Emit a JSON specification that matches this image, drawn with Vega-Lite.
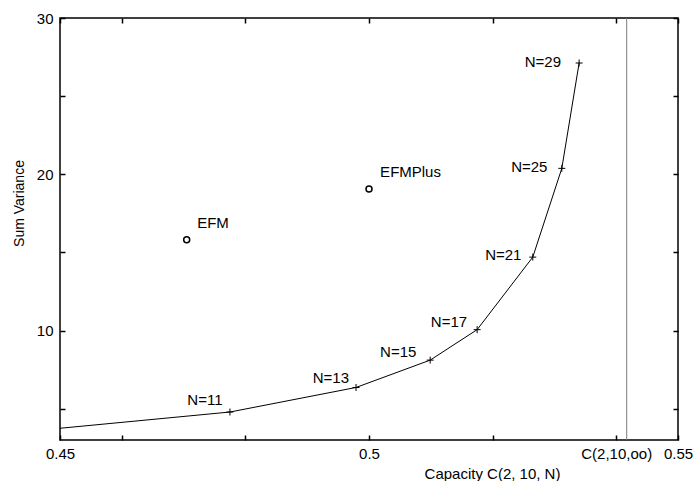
{
  "$schema": "https://vega.github.io/schema/vega-lite/v6.json",
  "width": 618,
  "height": 422,
  "autosize": {"type": "none"},
  "padding": {"left": 60, "top": 18, "right": 18, "bottom": 41},
  "background": "white",
  "config": {
    "font": "Liberation Sans",
    "view": {"stroke": "black", "strokeWidth": 1.5},
    "axis": {
      "domain": false,
      "grid": false,
      "ticks": true,
      "tickSize": -5,
      "tickColor": "black",
      "tickWidth": 1.5,
      "labelColor": "black",
      "labelFont": "Liberation Sans",
      "labelFontSize": 15,
      "labelOverlap": false,
      "labelFlush": false,
      "titleColor": "black",
      "titleFont": "Liberation Sans",
      "titleFontWeight": "normal"
    }
  },
  "datasets": {
    "curve": [
      {"N": "", "capacity": 0.45, "variance": 3.75},
      {"N": "N=11", "capacity": 0.4775, "variance": 4.79},
      {"N": "N=13", "capacity": 0.4979, "variance": 6.36},
      {"N": "N=15", "capacity": 0.5099, "variance": 8.11},
      {"N": "N=17", "capacity": 0.5175, "variance": 10.06},
      {"N": "N=21", "capacity": 0.5265, "variance": 14.7},
      {"N": "N=25", "capacity": 0.5312, "variance": 20.38},
      {"N": "N=29", "capacity": 0.534, "variance": 27.12}
    ],
    "labels": [
      {"text": "N=11", "lx": 0.4706, "ly": 5.53},
      {"text": "N=13", "lx": 0.4909, "ly": 6.94},
      {"text": "N=15", "lx": 0.5018, "ly": 8.6},
      {"text": "N=17", "lx": 0.51, "ly": 10.57},
      {"text": "N=21", "lx": 0.5188, "ly": 14.85},
      {"text": "N=25", "lx": 0.523, "ly": 20.46},
      {"text": "N=29", "lx": 0.5252, "ly": 27.19},
      {"text": "EFM", "lx": 0.4722, "ly": 16.89},
      {"text": "EFMPlus", "lx": 0.5018, "ly": 20.14}
    ],
    "schemes": [
      {"scheme": "EFM", "capacity": 0.4705, "variance": 15.81},
      {"scheme": "EFMPlus", "capacity": 0.5, "variance": 19.06}
    ],
    "limit": [
      {"name": "C(2,10,oo)", "capacity": 0.5417}
    ]
  },
  "layer": [
    {
      "data": {"name": "curve"},
      "mark": {"type": "line", "color": "black", "strokeWidth": 1},
      "encoding": {
        "x": {
          "field": "capacity", "type": "quantitative",
          "scale": {"domain": [0.45, 0.55], "nice": false, "zero": false},
          "axis": {
            "orient": "bottom",
            "values": [0.45, 0.46, 0.48, 0.5, 0.52, 0.54, 0.55],
            "labelExpr": "abs(datum.value-0.45)<0.001 ? '0.45' : abs(datum.value-0.5)<0.001 ? '0.5' : abs(datum.value-0.54)<0.001 ? 'C(2,10,oo)' : abs(datum.value-0.55)<0.001 ? '0.55' : ''",
            "labelPadding": 11,
            "title": "Capacity C(2, 10, N)",
            "titleFontSize": 15,
            "titleX": 432,
            "titleY": 38,
            "titleAlign": "center",
            "titleBaseline": "alphabetic"
          }
        },
        "y": {
          "field": "variance", "type": "quantitative",
          "scale": {"domain": [3, 30], "nice": false, "zero": false},
          "axis": {
            "orient": "left",
            "values": [5, 10, 15, 20, 25, 30],
            "labelExpr": "datum.value % 10 == 0 ? datum.label : ''",
            "labelPadding": 12,
            "title": "Sum Variance",
            "titleFontSize": 14,
            "titleAngle": -90,
            "titleX": -41,
            "titleY": 185,
            "titleAlign": "center",
            "titleBaseline": "middle"
          }
        }
      }
    },
    {
      "data": {"name": "curve"},
      "transform": [{"filter": "datum.N != ''"}],
      "mark": {"type": "point", "shape": "M-1,0L1,0M0,-1L0,1", "filled": false, "stroke": "black", "strokeWidth": 1, "size": 49, "opacity": 1},
      "encoding": {
        "x": {"field": "capacity", "type": "quantitative", "axis": null},
        "y": {"field": "variance", "type": "quantitative", "axis": null}
      }
    },
    {
      "data": {"name": "labels"},
      "mark": {"type": "text", "align": "left", "baseline": "middle", "fontSize": 15, "font": "Liberation Sans", "color": "black"},
      "encoding": {
        "x": {"field": "lx", "type": "quantitative", "axis": null},
        "y": {"field": "ly", "type": "quantitative", "axis": null},
        "text": {"field": "text"}
      }
    },
    {
      "data": {"name": "limit"},
      "mark": {"type": "rule", "color": "#7a7a7a", "strokeWidth": 1},
      "encoding": {
        "x": {"field": "capacity", "type": "quantitative", "axis": null}
      }
    },
    {
      "data": {"name": "schemes"},
      "mark": {"type": "point", "shape": "circle", "filled": false, "stroke": "black", "strokeWidth": 1.5, "size": 36, "opacity": 1},
      "encoding": {
        "x": {
          "field": "capacity", "type": "quantitative",
          "axis": {"orient": "top", "values": [0.45, 0.46, 0.48, 0.5, 0.52, 0.54, 0.55], "labels": false, "title": null}
        },
        "y": {
          "field": "variance", "type": "quantitative",
          "axis": {"orient": "right", "values": [5, 10, 15, 20, 25, 30], "labels": false, "title": null}
        }
      }
    }
  ],
  "resolve": {"axis": {"x": "independent", "y": "independent"}}
}
